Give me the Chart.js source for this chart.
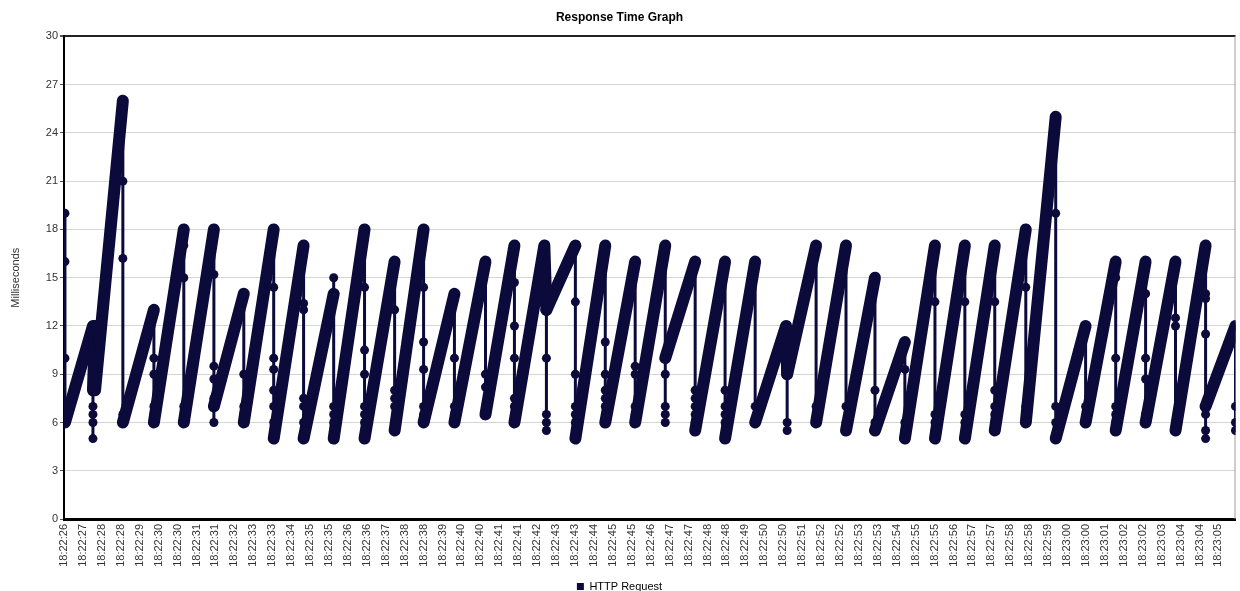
<!DOCTYPE html>
<html>
<head>
<meta charset="utf-8">
<title>Response Time Graph</title>
<script src="https://cdn.jsdelivr.net/npm/chart.js@4.4.1/dist/chart.umd.min.js"></script>
<style>
  html, body { margin: 0; padding: 0; background: #fff; }
</style>
</head>
<body>
<canvas id="myChart" width="1240" height="591"></canvas>
<script>
// labels under the time axis, one per slot
var timeLabels = [
    '18:22:26', '18:22:27', '18:22:28', '18:22:28', '18:22:29', '18:22:30', '18:22:30', '18:22:31',
    '18:22:31', '18:22:32', '18:22:33', '18:22:33', '18:22:34', '18:22:35', '18:22:35', '18:22:36',
    '18:22:36', '18:22:37', '18:22:38', '18:22:38', '18:22:39', '18:22:40', '18:22:40', '18:22:41',
    '18:22:41', '18:22:42', '18:22:43', '18:22:43', '18:22:44', '18:22:45', '18:22:45', '18:22:46',
    '18:22:47', '18:22:47', '18:22:48', '18:22:48', '18:22:49', '18:22:50', '18:22:50', '18:22:51',
    '18:22:52', '18:22:52', '18:22:53', '18:22:53', '18:22:54', '18:22:55', '18:22:55', '18:22:56',
    '18:22:57', '18:22:57', '18:22:58', '18:22:58', '18:22:59', '18:23:00', '18:23:00', '18:23:01',
    '18:23:02', '18:23:02', '18:23:03', '18:23:04', '18:23:04', '18:23:05'
];

// position of each burst of samples on the time axis (in label slots)
var burstSlots = [
    0.05, 1.53, 1.64, 3.11, 4.75, 6.33, 7.92, 9.50, 11.08, 12.66,
    14.25, 15.88, 17.47, 19.00, 20.63, 22.27, 23.80, 25.38, 25.49, 27.02,
    28.60, 30.18, 31.77, 33.35, 34.93, 36.52, 38.15, 38.21, 39.74, 41.32,
    42.85, 44.43, 46.02, 47.60, 49.18, 50.82, 52.40, 53.98, 55.57, 57.15,
    58.73, 60.32, 61.90
];

// response times (ms) of the samples in each burst, in order
var burstMs = [
    [19, 16, 10, 6],
    [12, 10.5, 7, 6.5, 6, 5, 8],
    [12, 8],
    [26, 21, 16.2, 6.5, 6],
    [13, 10, 9, 7, 6.5, 6],
    [18, 17, 15, 7, 6],
    [18, 15.2, 9.5, 8.7, 7.5, 6, 7],
    [14, 9, 7, 6.5, 6],
    [18, 14.4, 10, 9.3, 8, 7, 6, 5],
    [17, 13.4, 13, 7.5, 7, 6, 5],
    [14, 15, 7, 6.5, 6, 5],
    [18, 14.4, 10.5, 9, 7, 6.5, 6, 5],
    [16, 13, 8, 7.5, 7, 6, 5.5],
    [18, 14.4, 11, 9.3, 7, 6.5, 6],
    [14, 10, 7, 6.5, 6],
    [16, 9, 8.2, 7, 6.5],
    [17, 14.7, 12, 10, 7.5, 7, 6],
    [17],
    [13, 10, 6.5, 6, 5.5, 13],
    [17, 13.5, 9, 7, 6.5, 6, 5],
    [17, 11, 9, 8, 7.5, 7, 6],
    [16, 9.5, 9, 7, 6.5, 6],
    [17, 9, 7, 6.5, 6, 10],
    [16, 8, 7.5, 7, 6.5, 6, 5.5],
    [16, 8, 7, 6.5, 6, 5],
    [16, 7, 6],
    [12],
    [9, 6, 5.5, 9],
    [17, 7, 6],
    [17, 7, 6, 5.5],
    [15, 8, 6, 5.5],
    [11, 9.3, 6, 5.5, 5],
    [17, 13.5, 6.5, 6, 5.5, 5],
    [17, 13.5, 6.5, 6, 5],
    [17, 13.5, 8, 7, 6.5, 6, 5.5],
    [18, 14.4, 7, 6.5, 6],
    [25, 19, 7, 6, 5],
    [12, 7, 6],
    [16, 15, 10, 7, 6.5, 6, 5.5],
    [16, 14, 10, 8.7, 6.5, 6],
    [16, 12.5, 12, 6, 5.5],
    [17, 14, 13.7, 11.5, 6.5, 5.5, 5, 7],
    [12, 7, 6, 5.5]
];

var yTicks = [0, 3, 6, 9, 12, 15, 18, 21, 24, 27, 30];

var lineColor = '#0b0a3a';

var points = [];
burstSlots.forEach(function (slot, i) {
    burstMs[i].forEach(function (ms) {
        points.push({ x: slot, y: ms });
    });
});

Chart.defaults.font.family = '"Liberation Sans", Arial, sans-serif';
Chart.defaults.font.size = 11;
Chart.defaults.color = '#333';

// thin frame line on the right side of the plot
var frameRight = {
    id: 'frameRight',
    beforeDatasetsDraw: function (chart) {
        var a = chart.chartArea, c = chart.ctx;
        c.save();
        c.strokeStyle = '#a0a0a0';
        c.lineWidth = 1;
        c.beginPath();
        c.moveTo(a.right - 0.5, a.top);
        c.lineTo(a.right - 0.5, a.bottom);
        c.stroke();
        c.restore();
    }
};

var ctx = document.getElementById('myChart').getContext('2d');
var chart = new Chart(ctx, {
    type: 'line',
    data: {
        datasets: [{
            label: 'HTTP Request',
            data: points,
            borderColor: lineColor,
            backgroundColor: lineColor,
            borderWidth: 3,
            borderCapStyle: 'round',
            borderJoinStyle: 'round',
            pointRadius: 4.5,
            pointBorderWidth: 0,
            pointHoverRadius: 4.5,
            pointBackgroundColor: lineColor,
            tension: 0,
            // samples in the same burst are joined thin, jumps between bursts thick
            segment: {
                borderWidth: function (c) {
                    return (c.p1.x - c.p0.x) > 0.5 ? 12 : 3;
                }
            }
        }]
    },
    options: {
        responsive: false,
        animation: false,
        devicePixelRatio: 1,
        // the legend sits close to the bottom edge
        layout: { padding: { left: 0, right: 1, top: 0, bottom: -11 } },
        plugins: {
            title: {
                display: true,
                text: 'Response Time Graph',
                color: '#000',
                font: { size: 12, weight: 'bold' },
                padding: { top: 10, bottom: 12 }
            },
            legend: {
                position: 'bottom',
                labels: {
                    boxWidth: 7,
                    boxHeight: 7,
                    padding: 1,
                    color: '#000',
                    font: { size: 11 },
                    generateLabels: function (chart) {
                        var items = Chart.defaults.plugins.legend.labels.generateLabels(chart);
                        items.forEach(function (it) {
                            it.lineWidth = 0;
                            it.fillStyle = lineColor;
                            it.strokeStyle = lineColor;
                        });
                        return items;
                    }
                }
            },
            tooltip: { enabled: false }
        },
        scales: {
            x: {
                type: 'linear',
                min: 0,
                max: 61.9,
                afterFit: function (scale) { scale.height = 61; },
                grid: { display: false },
                border: { display: true, color: '#000', width: 3 },
                ticks: {
                    stepSize: 1,
                    autoSkip: false,
                    includeBounds: false,
                    maxRotation: 90,
                    minRotation: 90,
                    padding: -3,
                    color: '#333',
                    callback: function (v) {
                        return Number.isInteger(v) && timeLabels[v] ? timeLabels[v] : '';
                    }
                }
            },
            y: {
                min: 0,
                max: 30,
                afterFit: function (scale) { scale.width = 64; },
                afterBuildTicks: function (scale) {
                    scale.ticks = yTicks.map(function (v) { return { value: v }; });
                },
                title: {
                    display: true,
                    text: 'Milliseconds',
                    color: '#333',
                    font: { size: 11 },
                    padding: { top: 9, bottom: 0 }
                },
                border: { display: true, color: '#000', width: 2 },
                grid: {
                    color: function (c) { return c.tick && c.tick.value === 30 ? '#222' : '#d4d4d4'; },
                    lineWidth: function (c) { return c.tick && c.tick.value === 30 ? 2 : 1; },
                    tickColor: '#555',
                    tickLength: 4
                },
                ticks: { padding: 2, color: '#333' }
            }
        }
    },
    plugins: [frameRight]
});
</script>
</body>
</html>
